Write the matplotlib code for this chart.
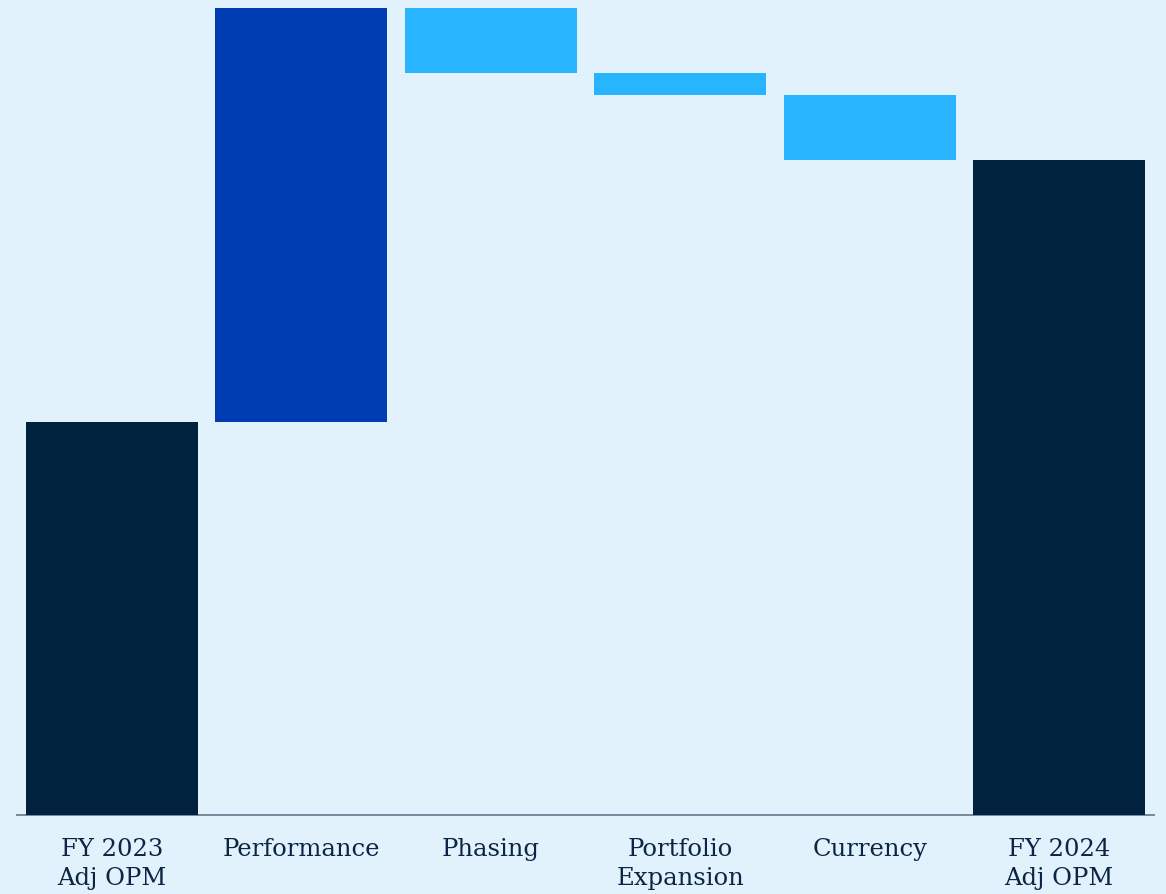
import numpy as np
import matplotlib
matplotlib.use('Agg')
from matplotlib import pyplot as plt

# Operating profit margin bridge, FY 2023 -> FY 2024
categories = ['FY 2023\nAdj OPM', 'Performance', 'Phasing',
              'Portfolio\nExpansion', 'Currency', 'FY 2024\nAdj OPM']
changes = [39.3, 41.4, -6.5, -2.2, -6.5, 65.5]
is_total = [True, False, False, False, False, True]

bg = '#e1f2fd'
navy = '#00223f'
up = '#003db2'
down = '#29b4ff'
text_col = '#0d2545'

# work out floating bar bottoms
bottoms = []
heights = []
running = 0.0
for val, tot in zip(changes, is_total):
    if tot:
        bottoms.append(0.0)
        heights.append(val)
        running = val
    else:
        if val >= 0:
            bottoms.append(running)
        else:
            bottoms.append(running + val)
        heights.append(abs(val))
        running += val

colors = []
for val, tot in zip(changes, is_total):
    if tot:
        colors.append(navy)
    elif val >= 0:
        colors.append(up)
    else:
        colors.append(down)

fig = plt.figure(figsize=(11.66, 8.95), dpi=100)
fig.patch.set_facecolor(bg)
ax = fig.add_axes([17/1166, 79/895, 1137/1166, 807/895])
ax.set_facecolor(bg)

x = np.arange(len(categories))
ax.bar(x, heights, bottom=bottoms, width=0.91, color=colors, zorder=3)

ax.set_xlim(-0.5, 5.5)
ax.set_ylim(0, max(b + h for b, h in zip(bottoms, heights)))

for s in ['top', 'right', 'left']:
    ax.spines[s].set_visible(False)
ax.spines['bottom'].set_color('#6c7f94')
ax.spines['bottom'].set_linewidth(1.3)
ax.spines['bottom'].set_zorder(1)

ax.set_yticks([])
ax.set_xticks(x)
ax.set_xticklabels(categories, fontfamily='DejaVu Serif', fontsize=17.5,
                   color=text_col, linespacing=1.3)
ax.tick_params(axis='x', length=0, pad=16)

fig.savefig('out.png', dpi=100, facecolor=bg)
